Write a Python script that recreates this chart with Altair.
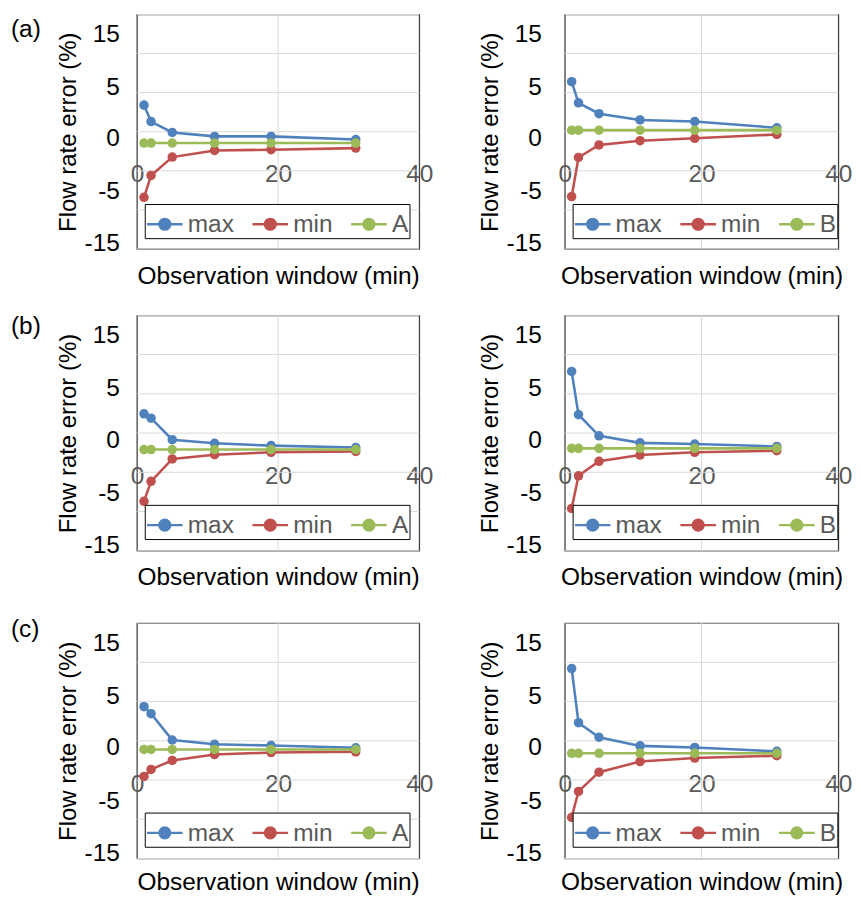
import altair as alt
import pandas as pd

# ---------------- data ----------------
window_min = [1, 2, 5, 11, 19, 31]

a_left_max = [3.4, 1.3, -0.1, -0.6, -0.6, -1.0]
a_left_min = [-8.4, -5.6, -3.25, -2.4, -2.3, -2.1]
a_left_ref = [-1.45, -1.45, -1.45, -1.45, -1.45, -1.45]

a_right_max = [6.4, 3.7, 2.3, 1.5, 1.3, 0.5]
a_right_min = [-8.3, -3.3, -1.7, -1.15, -0.85, -0.35]
a_right_ref = [0.2, 0.2, 0.2, 0.2, 0.2, 0.2]

b_left_max = [2.45, 1.9, -0.85, -1.3, -1.6, -1.85]
b_left_min = [-8.7, -6.15, -3.3, -2.75, -2.45, -2.35]
b_left_ref = [-2.1, -2.1, -2.1, -2.1, -2.1, -2.1]

b_right_max = [7.85, 2.35, -0.35, -1.25, -1.4, -1.7]
b_right_min = [-9.6, -5.45, -3.6, -2.8, -2.45, -2.25]
b_right_ref = [-1.95, -1.95, -1.95, -1.95, -1.95, -1.95]

c_left_max = [4.35, 3.45, 0.1, -0.45, -0.6, -0.9]
c_left_min = [-4.55, -3.65, -2.5, -1.75, -1.5, -1.4]
c_left_ref = [-1.1, -1.1, -1.1, -1.1, -1.1, -1.1]

c_right_max = [9.2, 2.3, 0.45, -0.65, -0.85, -1.35]
c_right_min = [-9.75, -6.45, -4.0, -2.65, -2.2, -1.9]
c_right_ref = [-1.6, -1.6, -1.6, -1.6, -1.6, -1.6]

series_colors = ["#4F81BD", "#C0504D", "#9BBB59"]

x_domain = [0, 40]
x_ticks = [0, 20, 40]
x_grid = [20]
y_domain = [-15, 15]
y_grid = [15, 10, 5, 0, -5, -10, -15]
# tick labels as printed in the figure and where they sit on the value scale
y_label_text = ["15", "5", "0", "-5", "-15"]
y_label_pos = [12.5, 5.8, -0.8, -7.6, -14.2]

FONT = "Liberation Sans"
FS = 25

label_expr = "''"
for p, t in reversed(list(zip(y_label_pos, y_label_text))):
    label_expr = f"datum.value == {p} ? '{t}' : ({label_expr})"

# legend symbol: short line with a dot
SYMBOL = "M-1,0L1,0M-0.3,0A0.3,0.3,0,1,1,0.3,0A0.3,0.3,0,1,1,-0.3,0Z"


def panel(max_vals, min_vals, ref_vals, ref_name, tag, side, width, height,
          tag_y, xtitle_gap):
    names = ["max", "min", ref_name]
    df = pd.DataFrame({
        "window": window_min * 3,
        "error": max_vals + min_vals + ref_vals,
        "series": [names[0]] * 6 + [names[1]] * 6 + [names[2]] * 6,
    })
    xs = alt.Scale(domain=x_domain, nice=False, zero=False)
    ys = alt.Scale(domain=y_domain, nice=False, zero=False)

    hgrid = alt.Chart(pd.DataFrame({"g": y_grid})).mark_rule(
        color="#D9D9D9", strokeWidth=1
    ).encode(y=alt.Y("g:Q", scale=ys, axis=None))
    vgrid = alt.Chart(pd.DataFrame({"g": x_grid})).mark_rule(
        color="#D9D9D9", strokeWidth=1
    ).encode(x=alt.X("g:Q", scale=xs, axis=None))

    title_x = -70 if side == "left" else -76
    lab_pad = 18 if side == "left" else 24

    lines = alt.Chart(df).mark_line(
        strokeWidth=2.6, point=alt.OverlayMarkDef(filled=True, size=95)
    ).encode(
        x=alt.X("window:Q", scale=xs, axis=alt.Axis(
            orient="bottom",
            values=x_ticks, grid=False, domain=False, ticks=False,
            offset=-77, labelPadding=0, labelBaseline="middle",
            labelFlush=False, labelFontSize=FS, labelColor="#595959",
            labelFont=FONT,
            title="Observation window (min)", titleFontSize=FS,
            titleFont=FONT, titleFontWeight="normal", titleColor="#000000",
            titleY=77 + xtitle_gap, titleBaseline="middle",
            titleAnchor="middle",
        )),
        y=alt.Y("error:Q", scale=ys, axis=alt.Axis(
            orient="left",
            values=y_label_pos, labelExpr=label_expr, grid=False,
            domain=False, ticks=False, labelPadding=lab_pad,
            labelFlush=False, labelOverlap=False, labelFontSize=FS,
            labelColor="#000000", labelFont=FONT, labelBaseline="middle",
            title="Flow rate error (%)", titleFontSize=24.5, titleFont=FONT,
            titleFontWeight="normal", titleColor="#000000",
            titleX=title_x, titleY=height / 2, titleAngle=270,
            titleAlign="center", titleBaseline="middle",
        )),
        color=alt.Color("series:N", sort=names,
                        scale=alt.Scale(domain=names, range=series_colors),
                        legend=alt.Legend(
                            orient="none", legendX=8, legendY=194,
                            direction="horizontal", title=None,
                            strokeColor="#000000", fillColor="#FFFFFF",
                            padding=1, symbolType=SYMBOL, symbolSize=1330,
                            symbolStrokeWidth=2.5, labelFontSize=FS,
                            labelFont=FONT, labelColor="#595959",
                            labelOffset=4, columnPadding=13,
                        )),
    )
    layers = [hgrid, vgrid, lines]
    if tag:
        tag_text = alt.Chart(pd.DataFrame({"t": [tag]})).mark_text(
            fontSize=FS, font=FONT, color="#000000", align="left",
            baseline="middle"
        ).encode(x=alt.value(-129), y=alt.value(tag_y), text="t:N")
        layers.append(tag_text)
    return alt.layer(*layers).resolve_axis(
        x="independent", y="independent"
    ).properties(width=width, height=height)


def row(left, right, spacing):
    return alt.hconcat(left, right, spacing=spacing).resolve_scale(
        x="independent", y="independent", color="independent"
    ).resolve_legend(color="independent")


row1 = row(
    panel(a_left_max, a_left_min, a_left_ref, "A", "(a)", "left", 289, 240, 15, 27),
    panel(a_right_max, a_right_min, a_right_ref, "B", "", "right", 280, 240, 15, 27),
    44,
)
row2 = row(
    panel(b_left_max, b_left_min, b_left_ref, "A", "(b)", "left", 289, 241, 11, 27),
    panel(b_right_max, b_right_min, b_right_ref, "B", "", "right", 280, 241, 11, 27),
    44,
)
row3 = row(
    panel(c_left_max, c_left_min, c_left_ref, "A", "(c)", "left", 289, 241, 6, 24),
    panel(c_right_max, c_right_min, c_right_ref, "B", "", "right", 280, 241, 6, 24),
    44,
)

top = alt.vconcat(row1, row2, spacing=25).resolve_scale(
    x="independent", y="independent", color="independent"
).resolve_legend(color="independent")

chart = alt.vconcat(top, row3, spacing=26).resolve_scale(
    x="independent", y="independent", color="independent"
).resolve_legend(color="independent").properties(
    padding={"left": 2, "top": -6, "right": 0, "bottom": 0}
).configure(font=FONT).configure_view(stroke="#404040", strokeWidth=1.3)

chart.save("out.html", embed_options={"renderer": "svg", "actions": False})
